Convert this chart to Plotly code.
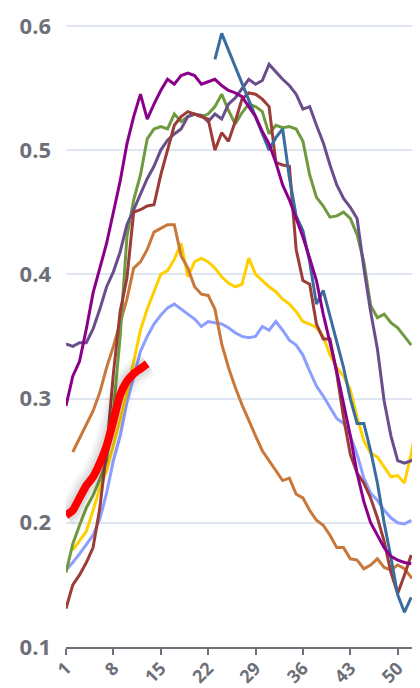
import plotly.graph_objects as go

weeks = list(range(1, 54))
x_ticks = [1, 8, 15, 22, 29, 36, 43, 50]
y_ticks = [0.1, 0.2, 0.3, 0.4, 0.5, 0.6]
y_tick_text = ["0.1", "0.2", "0.3", "0.4", "0.5", "0.6"]

light_blue = [0.162, 0.168, 0.175, 0.183, 0.19, 0.203, 0.224, 0.25, 0.27, 0.297,
              0.318, 0.338, 0.35, 0.36, 0.367, 0.373, 0.376, 0.372, 0.368, 0.364,
              0.358, 0.362, 0.361, 0.36, 0.357, 0.353, 0.35, 0.349, 0.35, 0.358,
              0.355, 0.362, 0.355, 0.347, 0.343, 0.335, 0.322, 0.31, 0.302, 0.293,
              0.284, 0.28, 0.27, 0.255, 0.236, 0.224, 0.218, 0.21, 0.204, 0.2,
              0.199, 0.202, None]

yellow = [None, 0.178, 0.186, 0.193, 0.21, 0.228, 0.242, 0.262, 0.283, 0.305,
          0.33, 0.355, 0.372, 0.386, 0.40, 0.403, 0.412, 0.425, 0.398, 0.41,
          0.413, 0.41, 0.405, 0.398, 0.393, 0.39, 0.392, 0.413, 0.40, 0.395,
          0.39, 0.386, 0.38, 0.376, 0.37, 0.362, 0.36, 0.357, 0.35, 0.335,
          0.325, 0.318, 0.307, 0.285, 0.266, 0.256, 0.253, 0.245, 0.237, 0.238,
          0.232, 0.256, 0.285]

orange = [None, 0.257, 0.268, 0.28, 0.29, 0.305, 0.325, 0.342, 0.36, 0.38,
          0.405, 0.41, 0.42, 0.434, 0.437, 0.44, 0.44, 0.415, 0.405, 0.39,
          0.384, 0.383, 0.372, 0.344, 0.325, 0.309, 0.295, 0.282, 0.27, 0.258,
          0.25, 0.242, 0.234, 0.236, 0.223, 0.22, 0.21, 0.202, 0.198, 0.19,
          0.18, 0.18, 0.171, 0.17, 0.163, 0.166, 0.171, 0.164, 0.162, 0.166,
          0.163, 0.156, 0.159]

purple = [0.294, 0.318, 0.33, 0.356, 0.385, 0.405, 0.425, 0.45, 0.475, 0.505,
          0.527, 0.545, 0.525, 0.537, 0.548, 0.557, 0.553, 0.56, 0.562, 0.56,
          0.553, 0.555, 0.557, 0.552, 0.548, 0.546, 0.543, 0.535, 0.527, 0.515,
          0.505, 0.49, 0.472, 0.46, 0.445, 0.43, 0.413, 0.395, 0.368, 0.346,
          0.322, 0.296, 0.27, 0.24, 0.217, 0.2, 0.19, 0.18, 0.173, 0.17,
          0.168, 0.167, None]

slate = [0.344, 0.342, 0.345, 0.345, 0.356, 0.372, 0.39, 0.402, 0.418, 0.44,
         0.452, 0.465, 0.477, 0.487, 0.5, 0.508, 0.513, 0.517, 0.527, 0.529,
         0.528, 0.523, 0.529, 0.525, 0.537, 0.542, 0.55, 0.557, 0.553, 0.556,
         0.569, 0.563, 0.557, 0.552, 0.545, 0.533, 0.535, 0.52, 0.506, 0.488,
         0.472, 0.461, 0.454, 0.445, 0.405, 0.37, 0.34, 0.298, 0.27, 0.25,
         0.248, 0.25, 0.254]

green = [0.16, 0.183, 0.198, 0.212, 0.222, 0.235, 0.25, 0.29, 0.35, 0.43,
         0.46, 0.48, 0.509, 0.517, 0.519, 0.517, 0.529, 0.523, 0.527, 0.529,
         0.527, 0.529, 0.535, 0.545, 0.532, 0.521, 0.53, 0.537, 0.535, 0.531,
         0.513, 0.52, 0.518, 0.519, 0.517, 0.507, 0.48, 0.462, 0.455, 0.446,
         0.447, 0.45, 0.445, 0.432, 0.41, 0.375, 0.365, 0.368, 0.361, 0.357,
         0.35, 0.343, None]

dark_red = [0.131, 0.15, 0.158, 0.168, 0.18, 0.212, 0.258, 0.32, 0.37, 0.397,
            0.45, 0.452, 0.455, 0.456, 0.48, 0.5, 0.52, 0.527, 0.531, 0.529,
            0.527, 0.525, 0.5, 0.514, 0.507, 0.523, 0.541, 0.546, 0.545, 0.541,
            0.535, 0.49, 0.488, 0.487, 0.42, 0.395, 0.392, 0.36, 0.348, 0.348,
            0.32, 0.285, 0.255, 0.24, 0.232, 0.22, 0.204, 0.185, 0.16, 0.143,
            0.158, 0.174, None]

steel = [None] * 22 + [0.573, 0.594, None, None, None, None, None, None,
                       0.50, 0.51, 0.517, 0.478, 0.447, 0.435, 0.41, 0.376,
                       0.387, 0.366, 0.345, 0.325, 0.30, 0.28, 0.28, 0.258,
                       0.232, 0.2, 0.172, 0.142, 0.128, 0.14, None]

red = [0.206, 0.21, 0.22, 0.23, 0.237, 0.248, 0.262, 0.282, 0.303, 0.314,
       0.32, 0.324, 0.328]

series = [
    (light_blue, "#8c9eff", 3),
    (yellow, "#ffd000", 3),
    (orange, "#c8783a", 3),
    (green, "#6f9a3e", 3),
    (slate, "#6a4e8c", 3),
    (dark_red, "#9c3c38", 3),
    (steel, "#3a6c9e", 3),
    (purple, "#8b008b", 3),
]

fig = go.Figure()
for vals, color, w in series:
    fig.add_trace(go.Scatter(x=weeks, y=vals, mode="lines",
                             line=dict(color=color, width=w),
                             connectgaps=True, hoverinfo="skip"))

red_weeks = weeks[:len(red)]
for sw, alpha in [(26, 0.035), (20, 0.045), (14, 0.06)]:
    fig.add_trace(go.Scatter(x=red_weeks, y=red, mode="lines",
                             line=dict(color=f"rgba(0,0,0,{alpha})", width=sw,
                                       shape="spline", smoothing=0.5),
                             hoverinfo="skip"))
fig.add_trace(go.Scatter(x=red_weeks, y=red, mode="lines",
                         line=dict(color="#ff0000", width=8,
                                   shape="spline", smoothing=0.5),
                         hoverinfo="skip"))

y_font = dict(family="Open Sans", size=22, color="#6e7079", weight="bold")
x_font = dict(family="Open Sans", size=18, color="#6e7079", weight="bold")

# page body has an 8px default margin, so the figure is sized to fit the window
fig.update_layout(
    width=412, height=680,
    margin=dict(l=58, r=2, t=16, b=41),
    paper_bgcolor="white", plot_bgcolor="white",
    showlegend=False,
    xaxis=dict(range=[1, 53], tickvals=x_ticks, ticktext=[str(v) for v in x_ticks],
               tickangle=-45, ticks="outside", ticklen=6, tickcolor="#6e7079",
               tickwidth=1.5, showline=True, linecolor="#6e7079", linewidth=1.5,
               showgrid=False, zeroline=False, tickfont=x_font, automargin=False,
               ticklabelstandoff=-4),
    yaxis=dict(range=[0.1, 0.6015], tickvals=y_ticks, ticktext=y_tick_text,
               showgrid=True, gridcolor="#e0e6f1", gridwidth=1.5,
               zeroline=False, showline=False, ticks="",
               ticklabelstandoff=14, tickfont=y_font, automargin=False),
)

fig.write_html("out.html")
